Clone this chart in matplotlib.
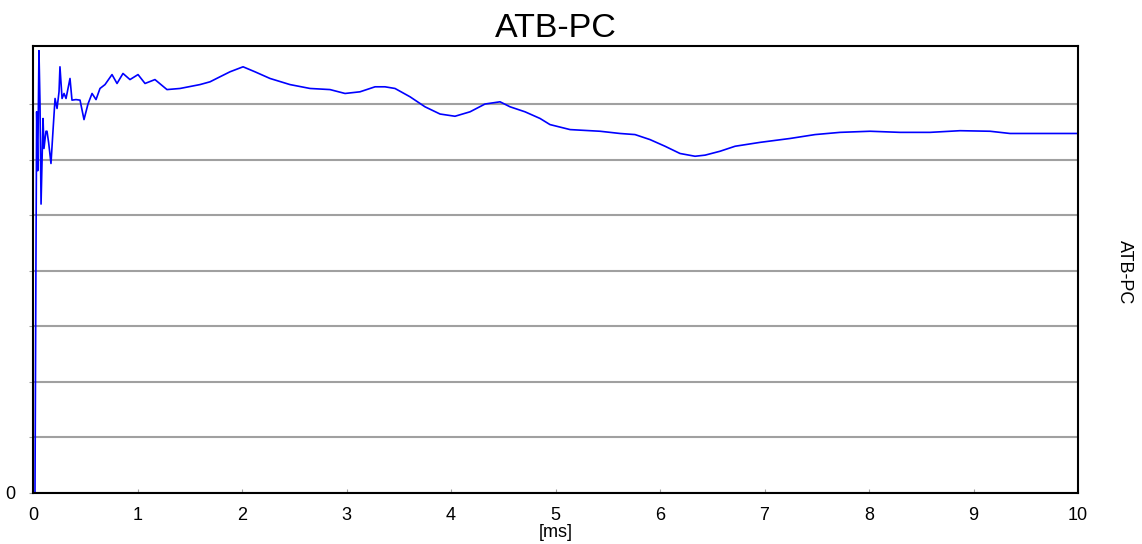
import matplotlib.pyplot as plt

plt.rcParams['font.family'] = ['Liberation Sans', 'DejaVu Sans']

# time axis [ms] and ATB-PC values
time_ms = [0.0, 0.019, 0.028, 0.035, 0.045, 0.057, 0.067, 0.077, 0.096, 0.105,
           0.124, 0.134, 0.15, 0.172, 0.191, 0.211, 0.230, 0.249, 0.258, 0.278,
           0.297, 0.316, 0.354, 0.373, 0.411, 0.450, 0.488, 0.526, 0.565, 0.603,
           0.641, 0.689, 0.756, 0.804, 0.861, 0.928, 1.005, 1.072, 1.167, 1.282,
           1.407, 1.598, 1.694, 1.789, 1.885, 2.010, 2.124, 2.268, 2.459, 2.651,
           2.842, 2.986, 3.129, 3.273, 3.368, 3.464, 3.608, 3.751, 3.895, 4.038,
           4.182, 4.325, 4.469, 4.565, 4.708, 4.852, 4.947, 5.139, 5.426, 5.617,
           5.761, 5.904, 6.048, 6.191, 6.335, 6.431, 6.574, 6.718, 6.957, 7.244,
           7.483, 7.722, 8.010, 8.297, 8.584, 8.871, 9.158, 9.349, 9.636, 9.904,
           10.0]
atb_pc = [0.0, 0.0, 4.1, 6.86, 5.8, 7.96, 7.01, 5.2, 6.74, 6.2,
          6.51, 6.51, 6.3, 5.93, 6.51, 7.1, 6.92, 7.22, 7.67, 7.1,
          7.19, 7.1, 7.46, 7.07, 7.08, 7.07, 6.72, 7.0, 7.19, 7.08,
          7.28, 7.35, 7.53, 7.37, 7.55, 7.44, 7.53, 7.37, 7.44, 7.26,
          7.28, 7.35, 7.4, 7.49, 7.58, 7.67, 7.58, 7.46, 7.35, 7.28,
          7.26, 7.19, 7.22, 7.31, 7.31, 7.28, 7.13, 6.95, 6.82, 6.78,
          6.86, 7.0, 7.04, 6.95, 6.86, 6.74, 6.63, 6.54, 6.51, 6.47,
          6.45, 6.36, 6.24, 6.11, 6.06, 6.08, 6.15, 6.24, 6.31, 6.38,
          6.45, 6.49, 6.51, 6.49, 6.49, 6.52, 6.51, 6.47, 6.47, 6.47,
          6.47]

x_ticks = [0, 1, 2, 3, 4, 5, 6, 7, 8, 9, 10]
y_ticks = [0, 1, 2, 3, 4, 5, 6, 7]
y_tick_labels = ['0', '', '', '', '', '', '', '']

fig = plt.figure(figsize=(11.42, 5.44), dpi=100)
ax = fig.add_axes([0.0289, 0.0938, 0.9151, 0.8212])

ax.plot(time_ms, atb_pc, color='#0000ff', linewidth=1.2)

ax.set_xlim(0, 10)
ax.set_ylim(0, 8.04)
ax.set_xticks(x_ticks)
ax.set_yticks(y_ticks)
ax.set_yticklabels(y_tick_labels)
ax.yaxis.grid(True, color='#a0a0a0', linewidth=1.5)
ax.set_axisbelow(True)

for s in ax.spines.values():
    s.set_linewidth(1.5)
    s.set_color('black')

ax.tick_params(axis='x', direction='in', length=3, color='#a0a0a0', labelsize=13, pad=10)
ax.tick_params(axis='y', direction='out', length=3, color='#a0a0a0', labelsize=13, pad=10)

ax.set_xlabel('[ms]', fontsize=13, labelpad=0)
ax.set_title('ATB-PC', fontsize=24.5, pad=7)
fig.text(0.985, 0.5, 'ATB-PC', rotation=-90, fontsize=13, ha='center', va='center')

plt.savefig('out.png', dpi=100)
